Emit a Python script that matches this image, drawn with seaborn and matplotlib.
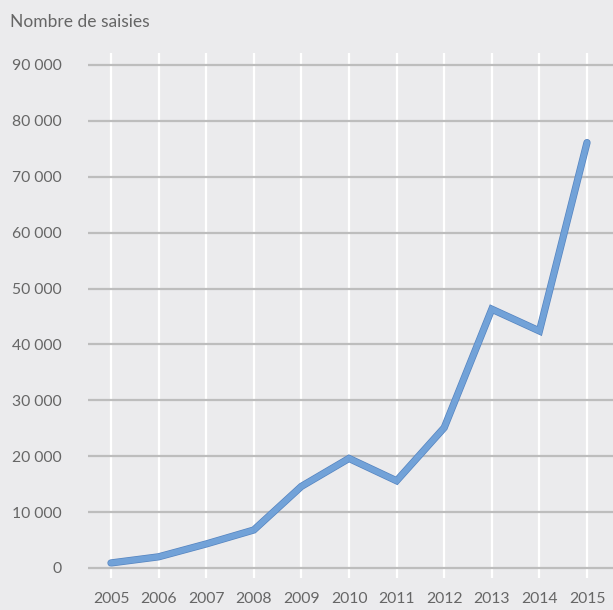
import matplotlib
matplotlib.use('Agg')
import matplotlib.pyplot as plt
import matplotlib.patheffects as pe
import pandas as pd
import seaborn as sns

# data
years = [2005, 2006, 2007, 2008, 2009, 2010, 2011, 2012, 2013, 2014, 2015]
saisies = [900, 2000, 4300, 6800, 14600, 19600, 15600, 25100, 46300, 42400, 76100]
y_ticks = [0, 10000, 20000, 30000, 40000, 50000, 60000, 70000, 80000, 90000]

df = pd.DataFrame({'annee': years, 'saisies': saisies})

bg = '#ebebed'
txt = '#666666'

sns.set_theme(style='white')
plt.rcParams['font.family'] = ['Lato', 'DejaVu Sans']

fig = plt.figure(figsize=(6.13, 6.10), dpi=100, facecolor=bg)
ax = fig.add_axes([88 / 613, 32 / 610, 525 / 613, 525 / 610])
ax.set_facecolor(bg)

sns.lineplot(data=df, x='annee', y='saisies', ax=ax, color='#72a2d8', linewidth=4.2,
             solid_capstyle='round', solid_joinstyle='miter',
             path_effects=[pe.Stroke(linewidth=5.2, foreground='#5584c0'), pe.Normal()])

ax.set_xlim(2004.517, 2015.546)
ax.set_ylim(-1790, 92130)
ax.set_xticks(years)
ax.set_yticks(y_ticks)
ax.set_yticklabels([f'{v:,}'.replace(',', ' ') for v in y_ticks])

for y in y_ticks:
    ax.axhline(y, color='#bdbdbd', linewidth=1.6, zorder=1)
for x in years:
    ax.axvline(x, color='white', linewidth=1.6, zorder=0.5)

for s in ax.spines.values():
    s.set_visible(False)
ax.tick_params(axis='both', length=0, labelsize=11.3, colors=txt)
ax.tick_params(axis='y', pad=19)
ax.tick_params(axis='x', pad=10)
ax.set_xlabel('')
ax.set_ylabel('')

fig.text(10 / 613, 1 - 22 / 610, 'Nombre de saisies', color=txt, fontsize=12.5, va='center', ha='left')

fig.savefig('out.png', dpi=100, facecolor=bg)
